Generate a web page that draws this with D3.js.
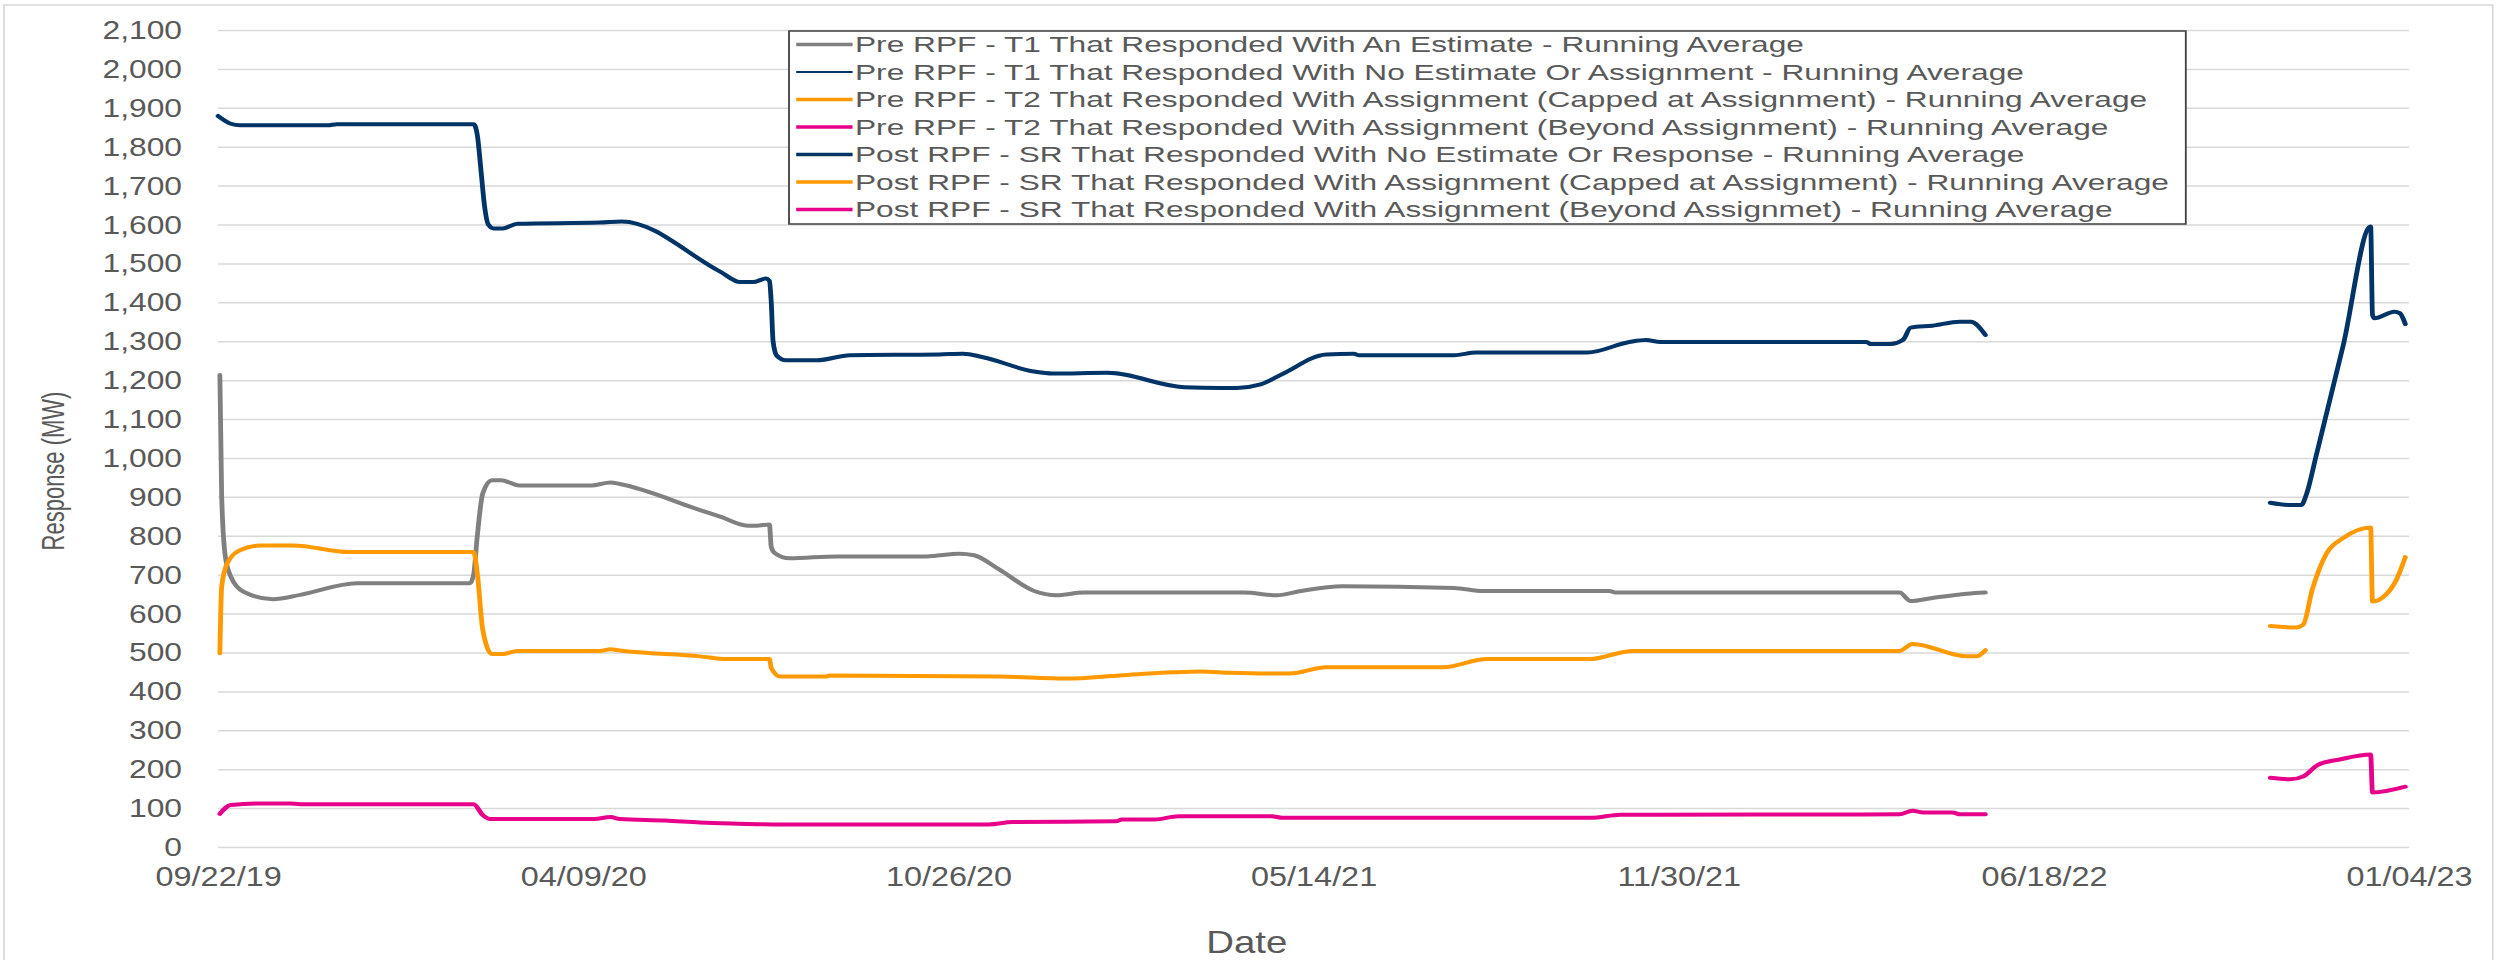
<!DOCTYPE html>
<html>
<head>
<meta charset="utf-8">
<script src="https://cdn.jsdelivr.net/npm/d3@7"></script>
<style>
  body { margin: 0; background: #fff; }
  svg { display: block; }
  text { font-family: "Liberation Sans", Arial, sans-serif; fill: #595959; }
</style>
</head>
<body>
<div id="chart"></div>
<script>
// running averages, [date, MW]
// pre RPF period
var preT1Estimate = [
  ["2019-09-23", 1213], ["2019-09-24", 900], ["2019-09-26", 746], ["2019-09-29", 695],
  ["2019-10-06", 656], ["2019-10-22", 637], ["2019-11-06", 648], ["2019-12-07", 678],
  ["2020-02-07", 678], ["2020-02-09", 700], ["2020-02-11", 800], ["2020-02-14", 909],
  ["2020-02-19", 943], ["2020-02-24", 943], ["2020-03-05", 929], ["2020-04-13", 929],
  ["2020-04-24", 937], ["2020-04-29", 933], ["2020-06-12", 866], ["2020-06-23", 849],
  ["2020-07-08", 826], ["2020-07-13", 826], ["2020-07-20", 829], ["2020-07-21", 771],
  ["2020-07-23", 755], ["2020-07-31", 742], ["2020-08-26", 747], ["2020-10-14", 747],
  ["2020-11-01", 754], ["2020-11-09", 750], ["2020-11-23", 713], ["2020-12-12", 658],
  ["2020-12-24", 647], ["2021-01-08", 654], ["2021-04-06", 654], ["2021-04-24", 647],
  ["2021-05-07", 658], ["2021-05-30", 670], ["2021-07-30", 666], ["2021-08-15", 658],
  ["2021-10-23", 658], ["2021-10-27", 654], ["2022-03-31", 654], ["2022-04-06", 632],
  ["2022-04-18", 640], ["2022-05-07", 651], ["2022-05-17", 654]
];
var preT1NoEstimate = [
  ["2019-09-22", 1879], ["2019-09-29", 1859], ["2019-10-04", 1855], ["2019-11-21", 1855],
  ["2019-11-26", 1858], ["2020-02-09", 1858], ["2020-02-11", 1830], ["2020-02-13", 1740],
  ["2020-02-15", 1646], ["2020-02-17", 1600], ["2020-02-20", 1590], ["2020-02-25", 1590],
  ["2020-03-04", 1602], ["2020-04-18", 1605], ["2020-04-30", 1608], ["2020-06-23", 1479],
  ["2020-07-04", 1452], ["2020-07-11", 1452], ["2020-07-18", 1461], ["2020-07-20", 1455],
  ["2020-07-21", 1400], ["2020-07-22", 1300], ["2020-07-24", 1263], ["2020-07-29", 1251],
  ["2020-08-15", 1251], ["2020-09-02", 1264], ["2020-10-21", 1266], ["2020-11-03", 1268],
  ["2020-11-14", 1259], ["2020-12-12", 1222], ["2020-12-22", 1217], ["2021-01-21", 1219],
  ["2021-03-04", 1182], ["2021-03-24", 1180], ["2021-04-02", 1180], ["2021-04-15", 1189],
  ["2021-04-27", 1216], ["2021-05-21", 1266], ["2021-06-05", 1268], ["2021-06-08", 1264],
  ["2021-07-30", 1264], ["2021-08-11", 1271], ["2021-10-11", 1271], ["2021-11-03", 1298],
  ["2021-11-12", 1303], ["2021-11-20", 1298], ["2022-03-13", 1298], ["2022-03-15", 1293],
  ["2022-03-26", 1293], ["2022-04-02", 1304], ["2022-04-06", 1335], ["2022-04-18", 1340],
  ["2022-05-03", 1350], ["2022-05-09", 1350], ["2022-05-17", 1316]
];
var preT2Capped = [
  ["2019-09-23", 498], ["2019-09-24", 669], ["2019-09-27", 729], ["2019-10-04", 763],
  ["2019-10-15", 775], ["2019-11-02", 775], ["2019-12-03", 758], ["2020-02-09", 758],
  ["2020-02-11", 704], ["2020-02-14", 558], ["2020-02-19", 496], ["2020-02-25", 496],
  ["2020-03-04", 504], ["2020-04-18", 504], ["2020-04-24", 508], ["2020-04-29", 505],
  ["2020-06-12", 490], ["2020-06-27", 483], ["2020-07-20", 483], ["2020-07-21", 460],
  ["2020-07-26", 438], ["2020-08-20", 438], ["2020-08-22", 441], ["2020-11-23", 438],
  ["2020-12-30", 433], ["2021-01-28", 441], ["2021-02-26", 449], ["2021-03-13", 451],
  ["2021-03-29", 448], ["2021-04-18", 446], ["2021-05-01", 446], ["2021-05-21", 462],
  ["2021-07-24", 462], ["2021-08-17", 483], ["2021-10-12", 483], ["2021-11-05", 504],
  ["2022-03-31", 504], ["2022-04-07", 522], ["2022-05-07", 490], ["2022-05-12", 490],
  ["2022-05-17", 506]
];
var preT2Beyond = [
  ["2019-09-23", 85], ["2019-09-29", 108], ["2019-10-17", 112], ["2019-10-31", 112],
  ["2019-11-06", 110], ["2020-02-09", 110], ["2020-02-14", 82], ["2020-02-18", 72],
  ["2020-04-15", 72], ["2020-04-24", 77], ["2020-04-29", 72], ["2020-05-24", 68],
  ["2020-06-12", 63], ["2020-07-03", 60], ["2020-07-22", 58], ["2020-11-17", 58],
  ["2020-11-30", 64], ["2021-01-26", 66], ["2021-01-29", 71], ["2021-02-16", 71],
  ["2021-03-01", 79], ["2021-04-21", 79], ["2021-04-27", 75], ["2021-10-13", 75],
  ["2021-10-29", 83], ["2022-03-31", 84], ["2022-04-07", 93], ["2022-04-13", 89],
  ["2022-04-29", 89], ["2022-05-03", 84], ["2022-05-17", 84]
];
// post RPF period
var postSrNoEstimate = [
  ["2022-10-20", 885], ["2022-10-31", 879], ["2022-11-06", 879], ["2022-11-09", 909],
  ["2022-11-14", 1003], ["2022-11-29", 1290], ["2022-12-14", 1595], ["2022-12-15", 1368],
  ["2022-12-16", 1359], ["2022-12-27", 1376], ["2022-12-30", 1372], ["2023-01-02", 1344]
];
var postSrCapped = [
  ["2022-10-20", 568], ["2022-11-03", 564], ["2022-11-07", 571], ["2022-11-12", 661],
  ["2022-11-20", 756], ["2022-11-29", 794], ["2022-12-14", 821], ["2022-12-15", 631],
  ["2022-12-21", 643], ["2022-12-28", 686], ["2023-01-02", 745]
];
var postSrBeyond = [
  ["2022-10-20", 178], ["2022-10-31", 174], ["2022-11-07", 181], ["2022-11-15", 211],
  ["2022-11-27", 225], ["2022-12-14", 238], ["2022-12-15", 140], ["2023-01-02", 155]
];

var seriesNames = [
  "Pre RPF - T1 That Responded With An Estimate - Running Average",
  "Pre RPF - T1 That Responded With No Estimate Or Assignment - Running Average",
  "Pre RPF - T2 That Responded With Assignment (Capped at Assignment) - Running Average",
  "Pre RPF - T2 That Responded With Assignment (Beyond Assignment) - Running Average",
  "Post RPF - SR That Responded With No Estimate Or Response - Running Average",
  "Post RPF - SR That Responded With Assignment (Capped at Assignment) - Running Average",
  "Post RPF - SR That Responded With Assignment (Beyond Assignmet) - Running Average"
];
var seriesData = [preT1Estimate, preT1NoEstimate, preT2Capped, preT2Beyond,
                  postSrNoEstimate, postSrCapped, postSrBeyond];
var seriesColors = ["#808080", "#003366", "#ff9900", "#e6008a", "#003366", "#ff9900", "#e6008a"];
var legendWidths = [3.5, 2, 3.5, 3.5, 3.5, 3.5, 3.5];

var xTickLabels = ["09/22/19", "04/09/20", "10/26/20", "05/14/21", "11/30/21", "06/18/22", "01/04/23"];
var yMax = 2100, yStep = 100;

// the source picture is stretched sideways, so draw in a narrower box and stretch it
var outW = 2496, outH = 960, stretch = 1.2;
var W = outW / stretch, H = outH;
var margin = { top: 30, right: W - 2007.5, bottom: H - 847, left: 181.7 },
    width = W - margin.left - margin.right,
    height = H - margin.top - margin.bottom;

var parseDate = d3.timeParse("%Y-%m-%d");
var parseTick = d3.timeParse("%m/%d/%y");
var fmtTick = d3.timeFormat("%m/%d/%y");

var svg = d3.select("#chart")
    .append("svg")
    .attr("width", outW)
    .attr("height", outH)
    .attr("viewBox", "0 0 " + W + " " + H)
    .attr("preserveAspectRatio", "none");

// chart area border
svg.append("rect")
    .attr("x", 3.3).attr("y", 5)
    .attr("width", W - 6).attr("height", H + 20)
    .attr("fill", "none")
    .attr("stroke", "#d9d9d9")
    .attr("stroke-width", 1.5);

var g = svg.append("g")
    .attr("transform", "translate(" + margin.left + "," + margin.top + ")");

var xTicks = xTickLabels.map(parseTick);
var x = d3.scaleTime()
    .domain([xTicks[0], xTicks[xTicks.length - 1]])
    .range([0, width]);
var y = d3.scaleLinear().domain([0, yMax]).range([height, 0]);

// Y axis with gridlines
var yAxis = g.append("g")
    .call(d3.axisLeft(y)
        .tickValues(d3.range(0, yMax + 1, yStep))
        .tickSize(-width)
        .tickPadding(30)
        .tickFormat(d3.format(",")));
yAxis.select(".domain").remove();
yAxis.selectAll(".tick line").attr("stroke", "#d9d9d9").attr("stroke-width", 1.5);
yAxis.selectAll(".tick text")
    .style("font-size", "26.5px")
    .attr("fill", "#595959");

// X axis
var xAxis = g.append("g")
    .attr("transform", "translate(0," + height + ")")
    .call(d3.axisBottom(x).tickValues(xTicks).tickSize(0).tickPadding(20).tickFormat(fmtTick));
xAxis.select(".domain").remove();
xAxis.selectAll(".tick text")
    .style("font-size", "27px")
    .attr("fill", "#595959");

// lines, pre RPF first so the post lines sit on top
var line = d3.line()
    .x(function (d) { return x(parseDate(d[0])); })
    .y(function (d) { return y(d[1]); })
    .curve(d3.curveMonotoneX);

seriesData.forEach(function (data, i) {
    g.append("path")
        .datum(data)
        .attr("fill", "none")
        .attr("stroke", seriesColors[i])
        .attr("stroke-width", 4)
        .attr("stroke-linejoin", "round")
        .attr("stroke-linecap", "round")
        .attr("d", line);
});

// axis titles
svg.append("text")
    .attr("x", 1039)
    .attr("y", 953)
    .attr("text-anchor", "middle")
    .style("font-size", "32px")
    .text("Date");

svg.append("text")
    .attr("transform", "translate(44,471) scale(1.2,1) rotate(-90)")
    .attr("text-anchor", "middle")
    .attr("dy", "0.35em")
    .style("font-size", "22px")
    .text("Response (MW)");

// legend
var lg = svg.append("g").attr("transform", "translate(657.5,31)");
lg.append("rect")
    .attr("width", 1164).attr("height", 193)
    .attr("fill", "#fff")
    .attr("stroke", "#404040")
    .attr("stroke-width", 1.5);

var rows = lg.selectAll(".row")
    .data(seriesNames)
    .enter()
    .append("g")
    .attr("transform", function (d, i) { return "translate(0," + (13.5 + i * 27.5) + ")"; });

rows.append("line")
    .attr("x1", 6).attr("x2", 53)
    .attr("stroke", function (d, i) { return seriesColors[i]; })
    .attr("stroke-width", function (d, i) { return legendWidths[i]; });

rows.append("text")
    .attr("transform", "translate(55,0) scale(1.2,1)")
    .attr("dy", "0.36em")
    .style("font-size", "22px")
    .text(function (d) { return d; });
</script>
</body>
</html>
